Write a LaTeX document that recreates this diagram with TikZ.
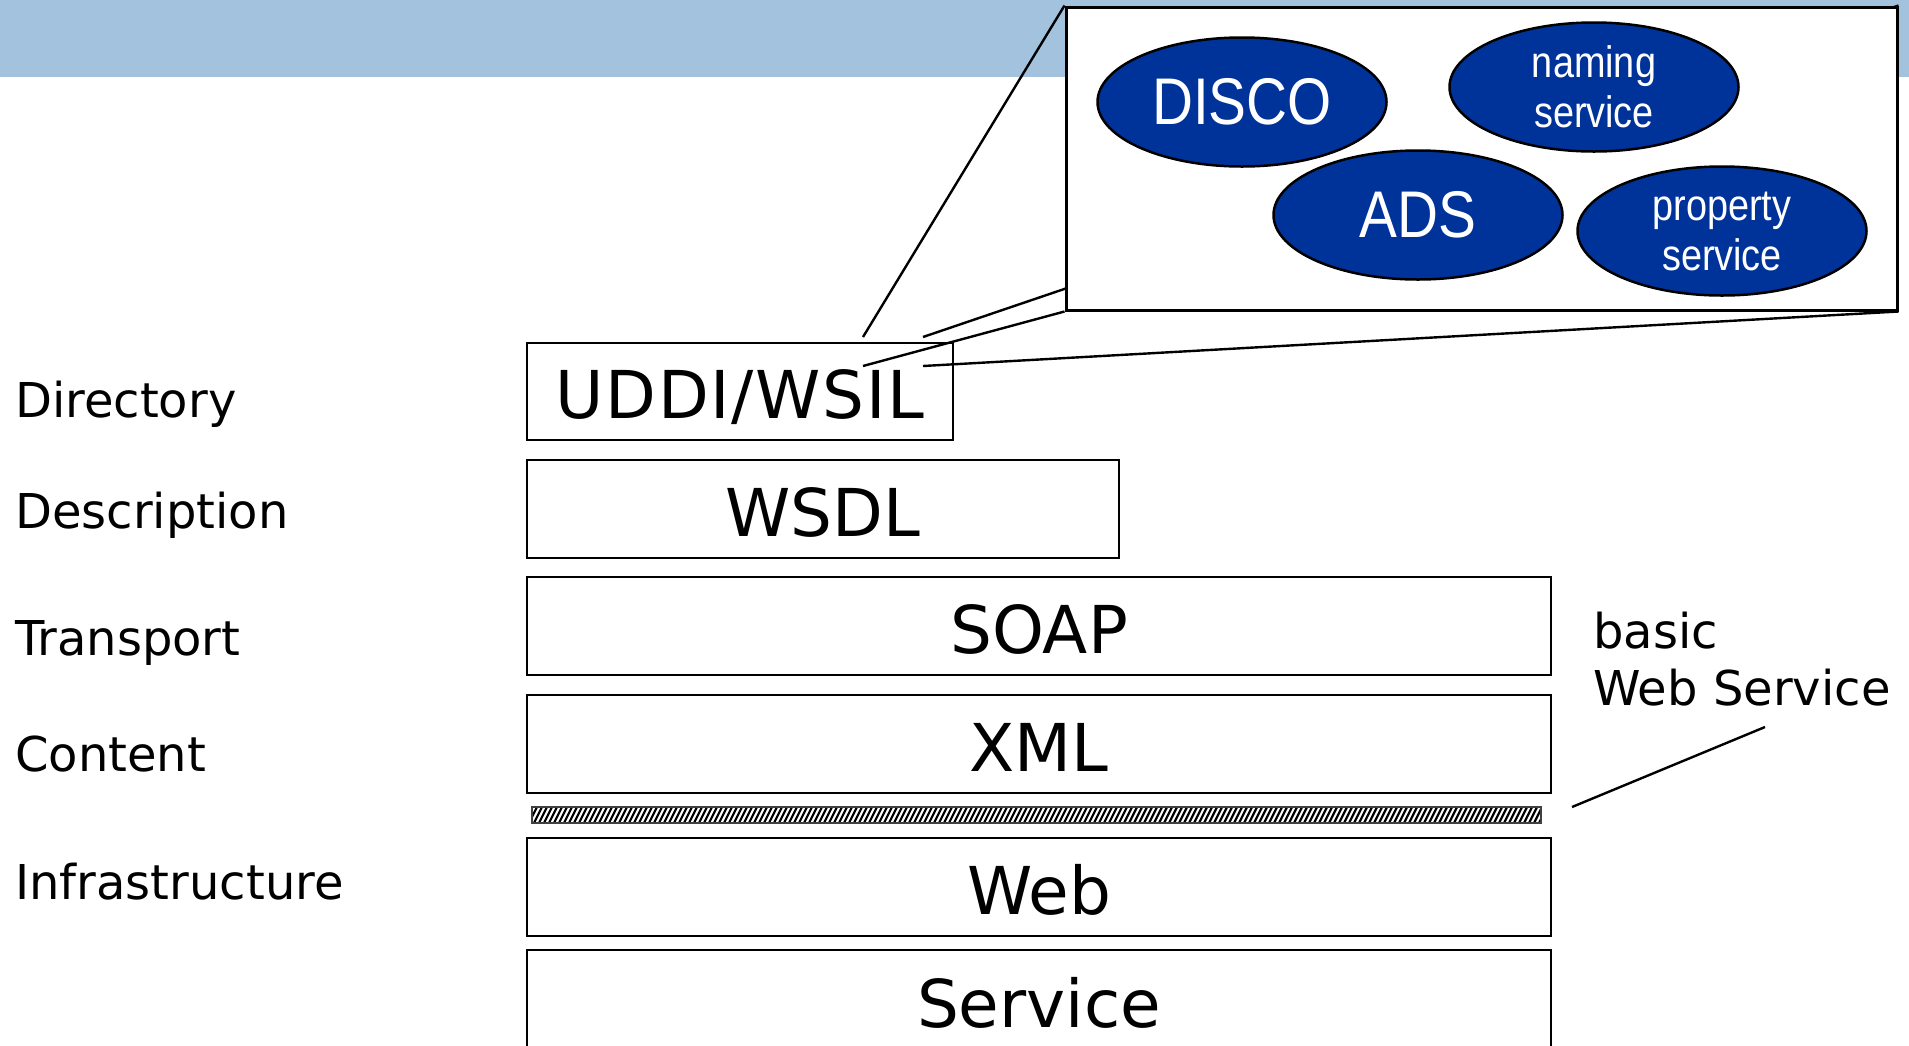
\documentclass[tikz,border=0pt]{standalone}
\usepackage{fontspec}
\setmainfont{DejaVu Sans}
\newfontfamily\ellfont[FakeStretch=0.86]{Liberation Sans}
\newfontfamily\widefont[LetterSpace=2.7]{DejaVu Sans}
\usetikzlibrary{shapes.geometric}
\definecolor{band}{RGB}{162,194,221}
\definecolor{ellblue}{RGB}{0,51,153}
\pgfdeclarelayer{background}
\pgfsetlayers{background,main}
\tikzset{
  stackbox/.style={draw=black, line width=2.4pt, inner sep=0pt, anchor=center,
    text height=54pt, text depth=0pt, font=\fontsize{66}{70}\selectfont},
  sidelabel/.style={anchor=base west, inner sep=0pt, font=\fontsize{48}{57}\selectfont},
  blob/.style={ellipse, draw=black, line width=2.5pt, fill=ellblue, text=white,
    minimum width=289pt, minimum height=129pt, inner sep=0pt, align=center},
  bigtext/.style={font=\ellfont\fontsize{66}{70}\selectfont},
  smalltext/.style={font=\ellfont\fontsize{44}{50}\selectfont},
  zoomline/.style={line width=2.4pt, black},
}
\begin{document}
\begin{tikzpicture}[x=1pt,y=-1pt]
\useasboundingbox (0,0) rectangle (1909,1045);
\clip (0,0) rectangle (1909,1045);

% layer stack
\node[stackbox, minimum width=426pt, minimum height=97pt,
  font=\widefont\fontsize{66}{70}\selectfont] (uddi) at (740,391.5) {UDDI/WSIL};
\node[stackbox, minimum width=592pt, minimum height=98pt] (wsdl) at (823,509) {WSDL};
\node[stackbox, minimum width=1024pt, minimum height=98pt] (soap) at (1039,626) {SOAP};
\node[stackbox, minimum width=1024pt, minimum height=98pt] (xml) at (1039,744) {XML};
\node[stackbox, minimum width=1024pt, minimum height=98pt] (web) at (1039,887) {Web};
\node[stackbox, minimum width=1024pt, minimum height=100pt] (service) at (1039,1000) {Service};

% hatched separator between content and infrastructure
\begin{scope}
  \clip (532,807) rectangle (1541,823);
  \foreach \i in {0,5,...,1030}
    \draw[line width=2.2pt, black] ({532+\i-8},823) -- ({532+\i},807);
\end{scope}
\draw[line width=1.5pt, black!75] (532,807) rectangle (1541,823);
\coordinate (sep) at (1572,807);

% layer names
\node[sidelabel] (ldir) at (15,417) {Directory};
\node[sidelabel] (ldesc) at (15,528) {Description};
\node[sidelabel] (ltrans) at (15,655) {Transport};
\node[sidelabel] (lcont) at (15,771) {Content};
\node[sidelabel] (linfra) at (15,899) {Infrastructure};

% basic web service annotation
\node[sidelabel, align=left] (basic) at (1593,705) {basic\\Web Service};
\coordinate (basictip) at (1765,727);
\draw[line width=2.4pt] (sep) -- (basictip);

% enlarged view of the directory layer
\node[draw=black, line width=3pt, fill=white, minimum width=831pt, minimum height=303pt,
  inner sep=0pt] (callout) at (1481.5,158.5) {};
\node[blob, bigtext] (disco) at (1242,102) {DISCO};
\node[blob, smalltext] (naming) at (1594,87) {naming\\service};
\node[blob, bigtext] (ads) at (1418,215) {ADS};
\node[blob, smalltext] (property) at (1722,231) {property\\service};

% small frame on UDDI/WSIL and its projection lines
\coordinate (fnw) at (863,337);
\coordinate (fne) at (923,337);
\coordinate (fsw) at (863,366);
\coordinate (fse) at (923,366);
\begin{pgfonlayer}{background}
  \fill[band] (0,0) rectangle (1909,77);
  \draw[zoomline] (fnw) -- (callout.north west);
  \draw[zoomline] (fne) -- (callout.north east);
  \draw[zoomline] (fsw) -- (callout.south west);
  \draw[zoomline] (fse) -- (callout.south east);
\end{pgfonlayer}
\end{tikzpicture}
\end{document}
